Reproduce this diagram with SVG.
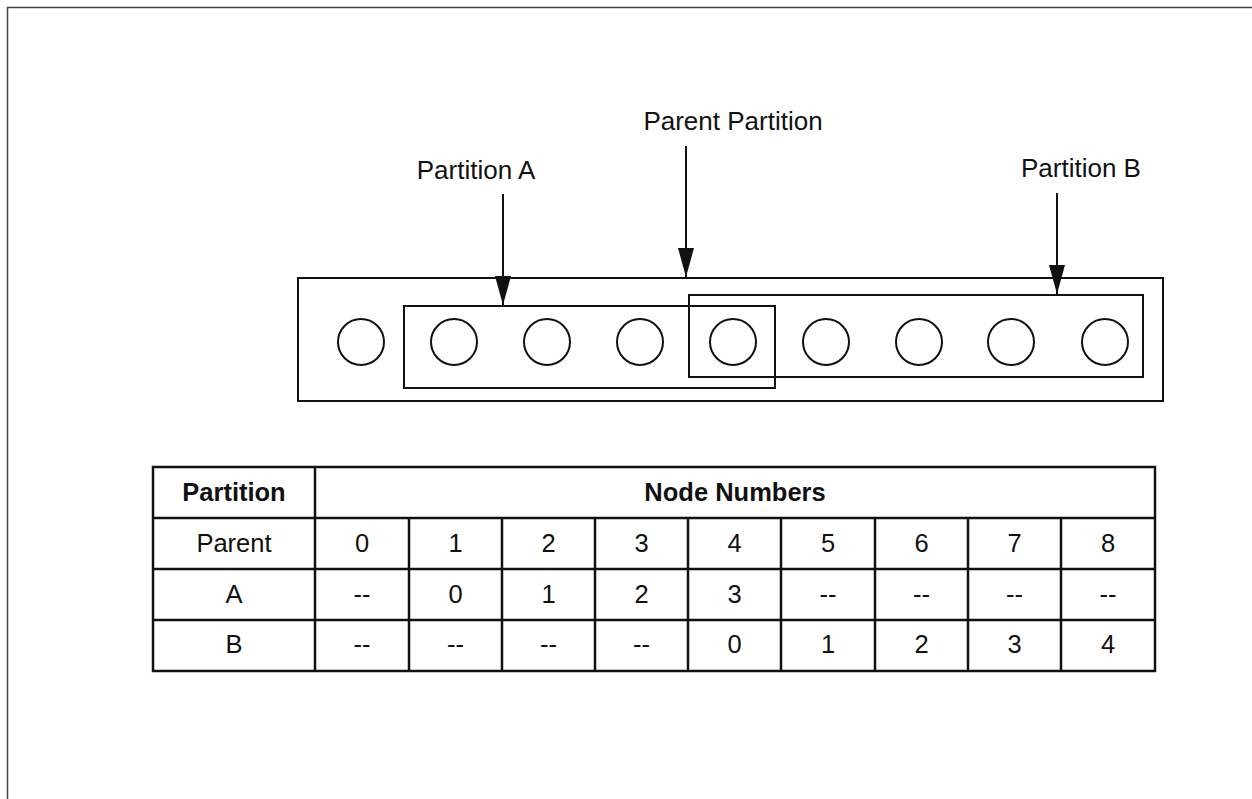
<svg xmlns="http://www.w3.org/2000/svg" width="1252" height="799" viewBox="0 0 1252 799">
<style>
.frame{fill:none;stroke:#444;stroke-width:1.5}
.box{fill:none;stroke:#111;stroke-width:2}
.node{fill:#fff;stroke:#111;stroke-width:2}
.conn{stroke:#111;stroke-width:2;fill:none}
.tbl{stroke:#111;stroke-width:2.5;fill:none}
text{font-family:"Liberation Sans",Arial,sans-serif;fill:#111;text-anchor:middle}
.lbl{font-size:26px}
.cell{font-size:25.5px}
.hdr{font-size:25.5px;font-weight:bold}
</style>
<defs>
<marker id="arr" markerUnits="userSpaceOnUse" markerWidth="29" markerHeight="16" viewBox="0 0 29 16" refX="29" refY="8" orient="auto">
<path d="M0,0 L29,8 L0,16 Z" fill="#111"/>
</marker>
</defs>
<rect width="1252" height="799" fill="#fff"/>
<path class="frame" d="M7.5,799 V7.5 H1252"/>

<g id="parent-partition">
<rect class="box" x="298" y="278" width="865" height="123"/>
</g>
<g id="partition-a">
<rect class="box" x="404" y="306" width="371" height="82"/>
</g>
<g id="partition-b">
<rect class="box" x="689" y="295" width="454" height="82"/>
</g>

<g id="node-0"><circle class="node" cx="361" cy="342" r="23"/></g>
<g id="node-1"><circle class="node" cx="454" cy="342" r="23"/></g>
<g id="node-2"><circle class="node" cx="547" cy="342" r="23"/></g>
<g id="node-3"><circle class="node" cx="640" cy="342" r="23"/></g>
<g id="node-4"><circle class="node" cx="733" cy="342" r="23"/></g>
<g id="node-5"><circle class="node" cx="826" cy="342" r="23"/></g>
<g id="node-6"><circle class="node" cx="919" cy="342" r="23"/></g>
<g id="node-7"><circle class="node" cx="1011" cy="342" r="23"/></g>
<g id="node-8"><circle class="node" cx="1105" cy="342" r="23"/></g>

<g id="label-parent"><text class="lbl" x="733" y="130">Parent Partition</text></g>
<g id="label-a"><text class="lbl" x="476" y="179">Partition A</text></g>
<g id="label-b"><text class="lbl" x="1081" y="177">Partition B</text></g>

<g id="connectors">
<line class="conn" x1="686" y1="146" x2="686" y2="277" marker-end="url(#arr)"/>
<line class="conn" x1="503" y1="194" x2="503" y2="305" marker-end="url(#arr)"/>
<line class="conn" x1="1057" y1="193" x2="1057" y2="294" marker-end="url(#arr)"/>
</g>

<g id="table">
<rect class="tbl" x="153" y="467" width="1002" height="204"/>
<path class="tbl" d="M153,518 H1155 M153,569 H1155 M153,620 H1155 M315,467 V671 M409,518 V671 M502,518 V671 M595,518 V671 M688,518 V671 M781,518 V671 M875,518 V671 M968,518 V671 M1061,518 V671"/>
<text class="hdr" x="234" y="501">Partition</text>
<text class="hdr" x="735" y="501">Node Numbers</text>
<text class="cell" x="234" y="552">Parent</text>
<text class="cell" x="362" y="552">0</text>
<text class="cell" x="455.5" y="552">1</text>
<text class="cell" x="548.5" y="552">2</text>
<text class="cell" x="641.5" y="552">3</text>
<text class="cell" x="734.5" y="552">4</text>
<text class="cell" x="828" y="552">5</text>
<text class="cell" x="921.5" y="552">6</text>
<text class="cell" x="1014.5" y="552">7</text>
<text class="cell" x="1108" y="552">8</text>
<text class="cell" x="234" y="603">A</text>
<text class="cell" x="362" y="603">--</text>
<text class="cell" x="455.5" y="603">0</text>
<text class="cell" x="548.5" y="603">1</text>
<text class="cell" x="641.5" y="603">2</text>
<text class="cell" x="734.5" y="603">3</text>
<text class="cell" x="828" y="603">--</text>
<text class="cell" x="921.5" y="603">--</text>
<text class="cell" x="1014.5" y="603">--</text>
<text class="cell" x="1108" y="603">--</text>
<text class="cell" x="234" y="653">B</text>
<text class="cell" x="362" y="653">--</text>
<text class="cell" x="455.5" y="653">--</text>
<text class="cell" x="548.5" y="653">--</text>
<text class="cell" x="641.5" y="653">--</text>
<text class="cell" x="734.5" y="653">0</text>
<text class="cell" x="828" y="653">1</text>
<text class="cell" x="921.5" y="653">2</text>
<text class="cell" x="1014.5" y="653">3</text>
<text class="cell" x="1108" y="653">4</text>
</g>
</svg>
